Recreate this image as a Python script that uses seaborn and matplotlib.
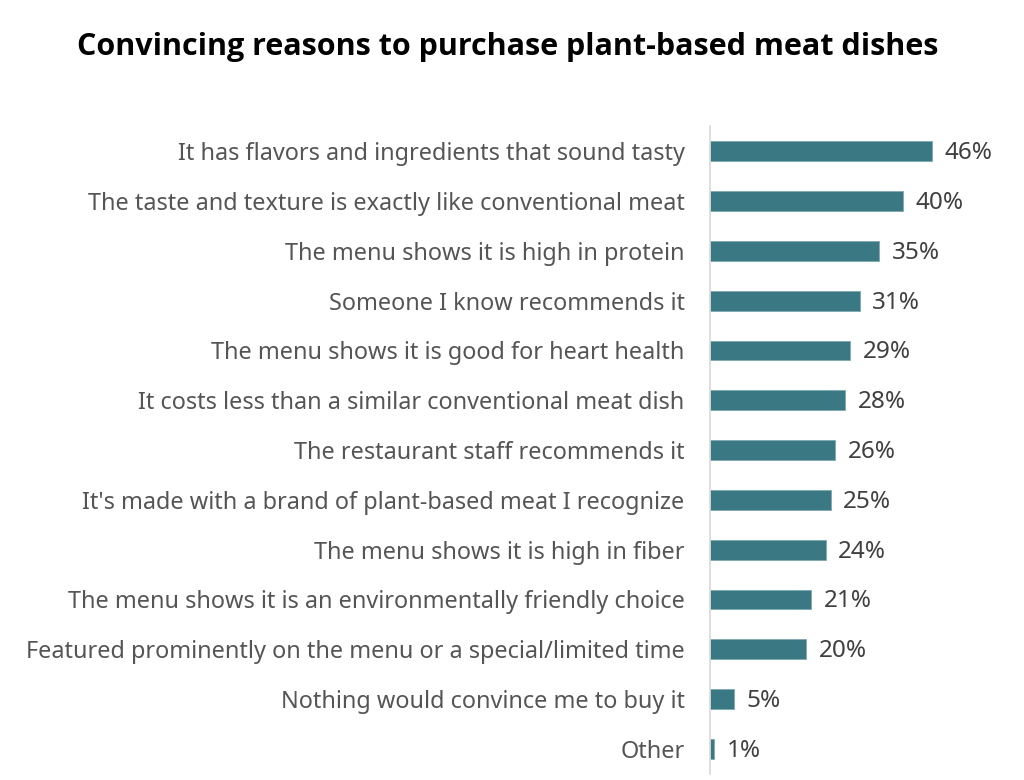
import seaborn as sns
import matplotlib.pyplot as plt
import pandas as pd

reasons = [
    "It has flavors and ingredients that sound tasty",
    "The taste and texture is exactly like conventional meat",
    "The menu shows it is high in protein",
    "Someone I know recommends it",
    "The menu shows it is good for heart health",
    "It costs less than a similar conventional meat dish",
    "The restaurant staff recommends it",
    "It's made with a brand of plant-based meat I recognize",
    "The menu shows it is high in fiber",
    "The menu shows it is an environmentally friendly choice",
    "Featured prominently on the menu or a special/limited time",
    "Nothing would convince me to buy it",
    "Other",
]
shares = [46, 40, 35, 31, 29, 28, 26, 25, 24, 21, 20, 5, 1]

df = pd.DataFrame({'Reason': reasons, 'Share': shares})

sns.set_theme(style='white')
plt.rcParams['font.family'] = ['Noto Sans', 'DejaVu Sans']

fig = plt.figure(figsize=(10.24, 7.8), dpi=100)
ax = fig.add_axes([0.693, 0.008, 0.30, 0.830])

sns.barplot(data=df, x='Share', y='Reason', color='#3a7883', width=0.4,
            edgecolor='#7fa9b0', linewidth=0.6, saturation=1, ax=ax)

for i, v in enumerate(shares):
    ax.text(v + 2.6, i + 0.04, f"{v}%", va='center', ha='left', fontsize=17.5, color='#404040')

ax.set_xlim(0, 63.5)
ax.set_ylim(12.5, -0.5)
ax.set_xlabel('')
ax.set_ylabel('')
ax.set_xticks([])
ax.tick_params(axis='y', length=0, pad=18, labelsize=16.9, labelcolor='#555555')
for s in ['top', 'right', 'bottom']:
    ax.spines[s].set_visible(False)
ax.spines['left'].set_color('#d9d9d9')
ax.spines['left'].set_linewidth(1.2)

fig.text(0.496, 0.94, "Convincing reasons to purchase plant-based meat dishes",
         ha='center', va='center', fontsize=22, fontweight='bold', color='black',
         family=['Open Sans', 'DejaVu Sans'])

fig.savefig('out.png', dpi=100)
